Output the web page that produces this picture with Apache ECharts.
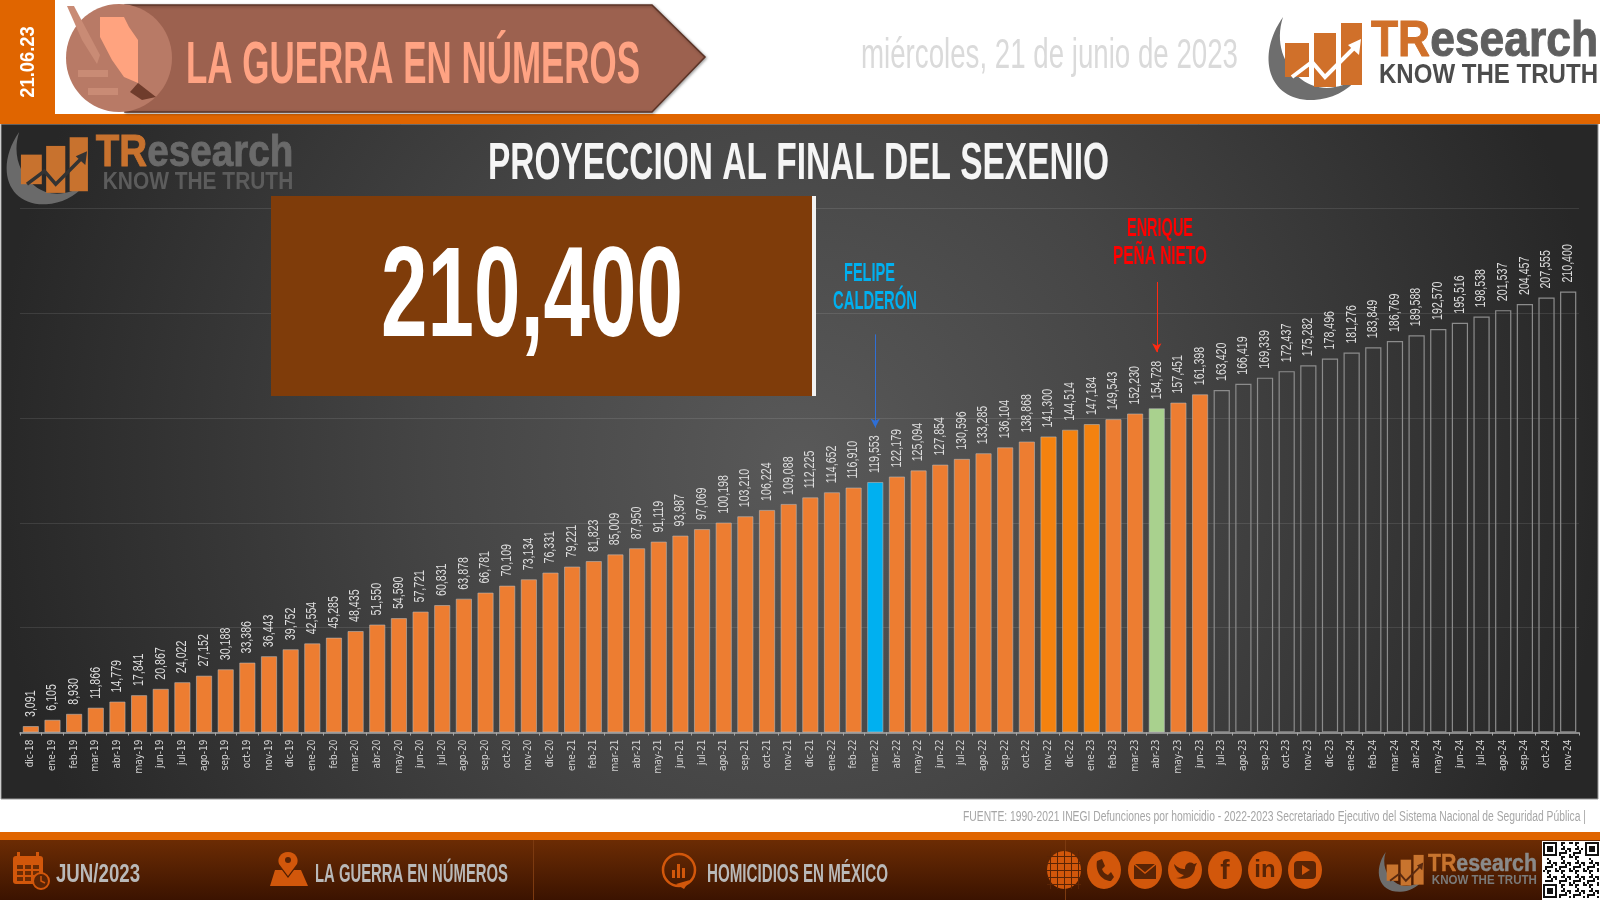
<!DOCTYPE html>
<html><head><meta charset="utf-8">
<style>html,body{margin:0;padding:0;background:#fff}#c{width:1600px;height:900px}</style>
<script src="https://cdn.jsdelivr.net/npm/echarts@6/dist/echarts.min.js"></script>
</head><body><div id="c"></div>
<script>
const categories = ['dic-18','ene-19','feb-19','mar-19','abr-19','may-19','jun-19','jul-19','ago-19','sep-19','oct-19','nov-19','dic-19','ene-20','feb-20','mar-20','abr-20','may-20','jun-20','jul-20','ago-20','sep-20','oct-20','nov-20','dic-20','ene-21','feb-21','mar-21','abr-21','may-21','jun-21','jul-21','ago-21','sep-21','oct-21','nov-21','dic-21','ene-22','feb-22','mar-22','abr-22','may-22','jun-22','jul-22','ago-22','sep-22','oct-22','nov-22','dic-22','ene-23','feb-23','mar-23','abr-23','may-23','jun-23','jul-23','ago-23','sep-23','oct-23','nov-23','dic-23','ene-24','feb-24','mar-24','abr-24','may-24','jun-24','jul-24','ago-24','sep-24','oct-24','nov-24'];
const values = [3091,6105,8930,11866,14779,17841,20867,24022,27152,30188,33386,36443,39752,42554,45285,48435,51550,54590,57721,60831,63878,66781,70109,73134,76331,79221,81823,85009,87950,91119,93987,97069,100198,103210,106224,109088,112225,114652,116910,119553,122179,125094,127854,130596,133285,136104,138868,141300,144514,147184,149543,152230,154728,157451,161398,163420,166419,169339,172437,175282,178496,181276,183849,186769,189588,192570,195516,198538,201537,204457,207555,210400];
const calderonMonth = 'mar-22';
const penaMonth = 'abr-23';
const strongMonths = ['nov-22','dic-22','ene-23'];
const firstProjected = 'jul-23';

const NARROW = '"DejaVu Sans Condensed","DejaVu Sans",sans-serif';
const SANS = '"Liberation Sans",Arial,sans-serif';
const mctx = document.createElement('canvas').getContext('2d');
let shapeId = 0;
function pathEl(pathData, style, z){
  const name='deco'+(shapeId++);
  echarts.graphic.registerShape(name, echarts.graphic.extendPath(pathData,{}));
  return {type:name,silent:true,z:z==null?4:z,style:style};
}
// Text fitted horizontally to a target width; x is the left edge, y the vertical middle.
function fit(text, x, y, w, size, color, opt) {
  opt = opt || {};
  const font = (opt.weight || 'normal') + ' ' + size + 'px ' + (opt.family || SANS);
  mctx.font = font;
  const sx = w / mctx.measureText(text).width;
  return { type:'text', x:x, y:y, scaleX:sx, scaleY:1, z:opt.z==null?6:opt.z, silent:true,
    style:Object.assign({ text:text, fill:color, font:font, textAlign:'left', textVerticalAlign:'middle' }, opt.style||{}) };
}
function rect(x,y,w,h,fill,z,extra){ return Object.assign({type:'rect',silent:true,z:z==null?5:z,shape:{x:x,y:y,width:w,height:h},style:{fill:fill}},extra||{}); }
function poly(points,fill,z){ return {type:'polygon',silent:true,z:z==null?5:z,shape:{points:points},style:{fill:fill}}; }

function logo(x,y,s,c){
  const children = [
    pathEl('M14,0 C-14,40 0,85 45,83 C62,82 78,75 90,60 C72,72 50,76 32,62 C14,48 6,25 14,0 Z',{fill:c.swoosh}),
    {type:'rect',shape:{x:16,y:26,width:24,height:34},style:{fill:c.bar}},
    {type:'rect',shape:{x:45,y:16,width:22,height:54},style:{fill:c.bar}},
    {type:'rect',shape:{x:72,y:6,width:21,height:62},style:{fill:c.bar}},
    {type:'polyline',shape:{points:[[23,60],[43,45],[56,60],[86,30]]},style:{stroke:c.check,lineWidth:4,fill:null}},
    {type:'polygon',shape:{points:[[92,22],[79,28],[90,38]]},style:{fill:c.check}}
  ];
  mctx.font='bold 50px '+SANS;
  const sx=227/mctx.measureText('TResearch').width;
  const trW=mctx.measureText('TR').width*sx;
  children.push(
    {type:'text',x:102,y:25,scaleX:sx,style:{text:'TR',font:'bold 50px '+SANS,fill:c.bar,textAlign:'left',textVerticalAlign:'middle',stroke:c.bar,lineWidth:1}},
    {type:'text',x:102+trW,y:25,scaleX:sx,style:{text:'esearch',font:'bold 50px '+SANS,fill:c.text,textAlign:'left',textVerticalAlign:'middle',stroke:c.text,lineWidth:1}}
  );
  mctx.font='bold 28px '+SANS;
  const sk=219/mctx.measureText('KNOW THE TRUTH').width;
  children.push({type:'text',x:110,y:58,scaleX:sk,style:{text:'KNOW THE TRUTH',font:'bold 28px '+SANS,fill:c.sub,textAlign:'left',textVerticalAlign:'middle'}});
  return {type:'group',x:x,y:y,scaleX:s,scaleY:s,silent:true,z:6,children:children.map(e=>Object.assign(e,{z:6,silent:true}))};
}

const ORANGE='#E06500', ICON='#D2570B', GLYPH='#5A2405';
const g = [];
// page frame
g.push(rect(0,114,1600,10,ORANGE,1));
g.push(rect(0,0,55,114,ORANGE,1));
g.push({type:'rect',silent:true,z:-10,shape:{x:1,y:124,width:1597,height:675},
  style:{fill:new echarts.graphic.RadialGradient(0.5,0.5,1.2,[{offset:0,color:'#595959'},{offset:0.45,color:'#454545'},{offset:1,color:'#272727'}]),stroke:'#9a9a9a',lineWidth:1}});
g.push({type:'text',x:28,y:62,rotation:Math.PI/2,scaleX:0.92,silent:true,z:6,style:{text:'21.06.23',font:'bold 20px '+SANS,fill:'#fff',textAlign:'center',textVerticalAlign:'middle'}});
// banner
g.push({type:'polygon',silent:true,z:2,shape:{points:[[125,5],[652,5],[705,57],[652,112],[125,112]]},style:{fill:'#9C614F',stroke:'#5b3326',lineWidth:1.5,shadowColor:'rgba(0,0,0,.35)',shadowBlur:3,shadowOffsetX:1,shadowOffsetY:1}});
g.push({type:'ellipse',silent:true,z:3,shape:{cx:119,cy:58,rx:53,ry:54},style:{fill:'#B87A66'}});
g.push(poly([[67,6],[74,6],[100,55],[97,64],[82,40]],'#C98B75',4));
g.push(poly([[100,17],[124,17],[129,27],[138,40],[138,83],[124,77],[112,60],[100,37]],'#FFA37F',4));
g.push(poly([[138,83],[156,97],[142,100],[130,92]],'#6F3C2C',4));
g.push(rect(78,70,30,7,'#C98B75',4)); g.push(rect(88,88,30,7,'#C98B75',4));
g.push(fit('LA GUERRA EN NÚMEROS',186,66,454,60,'#FFA383',{weight:'bold',style:{shadowColor:'#4a2a1e',shadowOffsetX:2,shadowOffsetY:2,shadowBlur:1}}));
g.push(fit('miércoles, 21 de junio de 2023',861,56,377,42,'#DADADA'));
const cMain={swoosh:'#6e6e6e',bar:'#D0702A',check:'#fff',text:'#5f5f5f',sub:'#4c4c4c'};
const cPanel={swoosh:'#6a6a6a',bar:'#C8722E',check:'#333',text:'#6a6a6a',sub:'#5c5c5c'};
const cFoot={swoosh:'#6d6d6d',bar:'#C8742E',check:'#5a2a10',text:'#8a8a8a',sub:'#7a7a7a'};
g.push(logo(1269,17,1,cMain));
g.push(logo(7,132,0.87,cPanel));
// title
g.push(fit('PROYECCION AL FINAL DEL SEXENIO',488,165,621,52,'#F5F5F5',{weight:'bold',style:{shadowColor:'rgba(0,0,0,.7)',shadowOffsetX:2,shadowOffsetY:2,shadowBlur:2}}));
// big number box
g.push(rect(271,196,541,200,'#7F3C0A',5));
g.push(rect(812,196,4,200,'#F2F2F2',5));
g.push(fit(values[values.length-1].toLocaleString('en-US'),381,301,302,128,'#fff',{weight:'bold',z:6}));
// callouts
g.push(fit('FELIPE',844,274,51,26,'#00B0F0',{weight:'bold'}));
g.push(fit('CALDERÓN',833,302,84,26,'#00B0F0',{weight:'bold'}));
g.push(fit('ENRIQUE',1127,229,66,26,'#FF0000',{weight:'bold'}));
g.push(fit('PEÑA NIETO',1113,257,94,26,'#FF0000',{weight:'bold'}));
// source
g.push(fit('FUENTE: 1990-2021 INEGI Defunciones por homicidio - 2022-2023 Secretariado Ejecutivo del Sistema Nacional de Seguridad Pública |',963,817,623,14,'#A6A6A6'));
// footer
g.push(rect(0,832,1600,8,ORANGE,1));
g.push(rect(0,840,1600,60,new echarts.graphic.LinearGradient(0,0,0,1,[{offset:0,color:'#6C2C04'},{offset:1,color:'#3B1300'}]),1));
g.push(rect(533,840,1,60,'#7c3a10',2)); g.push(rect(1065,840,1,60,'#7c3a10',2));
g.push(fit('JUN/2023',56,875,84,26,'#B9B9B9',{weight:'bold'}));
g.push(fit('LA GUERRA EN NÚMEROS',315,875,193,26,'#B9B9B9',{weight:'bold'}));
g.push(fit('HOMICIDIOS EN MÉXICO',707,875,181,26,'#B9B9B9',{weight:'bold'}));
// calendar icon
g.push({type:'rect',silent:true,z:3,shape:{x:13,y:856,width:30,height:28,r:3},style:{fill:ICON}});
for(let i=0;i<3;i++)for(let j=0;j<3;j++) g.push(rect(17+i*8,865+j*6,6,4,'#6C2C04',4));
g.push(rect(17,852,3,6,ICON,3)); g.push(rect(36,852,3,6,ICON,3));
g.push({type:'circle',silent:true,z:4,shape:{cx:41,cy:881,r:8},style:{fill:'#5a2405',stroke:ICON,lineWidth:2}});
g.push({type:'polyline',silent:true,z:5,shape:{points:[[41,876],[41,881],[45,883]]},style:{stroke:ICON,lineWidth:1.5,fill:null}});
// map pin icon
g.push(pathEl('M288,852 C280,852 277,859 279,864 L288,876 L297,864 C299,859 296,852 288,852 Z',{fill:ICON},3));
g.push({type:'circle',silent:true,z:4,shape:{cx:288,cy:860,r:3},style:{fill:'#5a2405'}});
g.push(poly([[275,870],[282,870],[288,878],[294,870],[301,870],[308,886],[270,886]],ICON,3));
// bubble icon
g.push({type:'circle',silent:true,z:3,shape:{cx:679,cy:870,r:16},style:{fill:'rgba(0,0,0,0)',stroke:ICON,lineWidth:2.5}});
g.push(poly([[676,884],[690,880],[684,889]],ICON,3));
g.push(rect(672,870,3,8,ICON,4)); g.push(rect(677,864,3,14,ICON,4)); g.push(rect(682,868,3,10,ICON,4));
// social icons
const iconCx=[1064,1104,1145,1185,1225,1265,1305];
iconCx.forEach(cx=>g.push({type:'ellipse',silent:true,z:3,shape:{cx:cx,cy:870,rx:17,ry:19},style:{fill:ICON}}));
for(let i=-2;i<=2;i++){ g.push(rect(1047,870+i*7,34,1,'#5a2405',4)); g.push(rect(1064+i*7,851,1,38,'#5a2405',4)); }
g.push(pathEl('M1097,861 L1102,859 L1105,866 L1102,869 C1103,872 1105,874 1108,875 L1111,872 L1114,877 L1111,881 C1102,881 1095,872 1097,861 Z',{fill:GLYPH}));
g.push(rect(1134,864,22,15,GLYPH,4));
g.push({type:'polyline',silent:true,z:5,shape:{points:[[1134,864],[1145,873],[1156,864]]},style:{stroke:ICON,lineWidth:1.5,fill:null}});
g.push(pathEl('M1174,864 C1178,868 1181,869 1185,869 C1185,863 1190,861 1194,864 L1197,863 L1195,867 C1195,875 1188,881 1176,878 C1180,878 1182,877 1184,875 C1179,874 1175,870 1174,864 Z',{fill:GLYPH}));
g.push({type:'text',x:1225,y:871,silent:true,z:4,style:{text:'f',font:'bold 28px '+SANS,fill:GLYPH,textAlign:'center',textVerticalAlign:'middle'}});
g.push({type:'text',x:1265,y:870,silent:true,z:4,style:{text:'in',font:'bold 24px '+SANS,fill:GLYPH,textAlign:'center',textVerticalAlign:'middle'}});
g.push({type:'rect',silent:true,z:4,shape:{x:1294,y:861,width:22,height:18,r:4},style:{fill:GLYPH}});
g.push(poly([[1302,865],[1302,875],[1310,870]],ICON,5));
g.push(logo(1379,852,0.48,cFoot));
// QR decoration
g.push(rect(1542,841,58,59,'#fff',5));
const cell=2, n=28;
for(let i=0;i<n;i++)for(let j=0;j<n;j++){
  const inF=(a,b)=>a<8&&b<8;
  if(inF(i,j)||inF(n-1-i,j)||inF(i,n-1-j))continue;
  if((i*i*3+j*j*5+i*j+i)%7<3) g.push(rect(1543+i*cell,842+j*cell,cell,cell,'#111',6));
}
[[1543,842],[1543+21*cell,842],[1543,842+21*cell]].forEach(p=>{
  g.push(rect(p[0],p[1],14,14,'#111',6)); g.push(rect(p[0]+2,p[1]+2,10,10,'#fff',7)); g.push(rect(p[0]+4,p[1]+4,6,6,'#111',8));
});

const BAR='#ED7D31', STRONG='#F4820F', BLUE='#00B0F0', GREEN='#A9D18E', OUTLINE='#8C8C8C';
const projStart = categories.indexOf(firstProjected);
const barData = values.map((v,i)=>{
  const c=categories[i];
  if(i>=projStart) return {value:v,itemStyle:{color:'rgba(0,0,0,0)',borderColor:OUTLINE,borderWidth:1.2}};
  let col=BAR;
  if(c===calderonMonth) col=BLUE; else if(c===penaMonth) col=GREEN; else if(strongMonths.includes(c)) col=STRONG;
  return {value:v,itemStyle:{color:col,borderColor:'rgba(190,190,190,.55)',borderWidth:1}};
});
// Tall condensed value labels, placed from the chart's own coordinate system.
function valueLabel(params, api){
  const p = api.coord([api.value(0), api.value(1)]);
  return {type:'text', x:p[0], y:p[1]-9, rotation:Math.PI/2, scaleX:0.76, silent:true,
    style:{text:api.value(1).toLocaleString('en-US'), font:'14px '+SANS, fill:'#DEDEDE', textAlign:'left', textVerticalAlign:'middle'}};
}

const chart = echarts.init(document.getElementById('c'),null,{renderer:'canvas',width:1600,height:900});
chart.setOption({
  animation:false,
  backgroundColor:'#ffffff',
  grid:{left:20,right:21,top:208.6,bottom:167.5,containLabel:false},
  xAxis:{type:'category',data:categories,
    axisLine:{lineStyle:{color:'#A6A6A6',width:1.5}},
    axisTick:{show:true,length:3,lineStyle:{color:'#A6A6A6'},alignWithLabel:false},
    axisLabel:{rotate:90,interval:0,margin:7,color:'#D4D4D4',fontFamily:NARROW,fontSize:10,hideOverlap:false}},
  yAxis:{type:'value',min:0,max:250000,interval:50000,
    axisLine:{show:false},axisTick:{show:false},axisLabel:{show:false},
    splitLine:{show:true,lineStyle:{color:'rgba(255,255,255,0.1)',width:1}}},
  series:[{type:'bar',data:barData,barCategoryGap:'25%',
    markLine:{silent:true,animation:false,symbol:['none','arrow'],symbolSize:[7,9],label:{show:false},
      data:[
        [{xAxis:calderonMonth,yAxis:190000,lineStyle:{color:'#2F6FD6',width:1,type:'solid'}},{xAxis:calderonMonth,yAxis:145500}],
        [{xAxis:penaMonth,yAxis:215000,lineStyle:{color:'#FF2A12',width:1,type:'solid'}},{xAxis:penaMonth,yAxis:181500}]
      ]}
  },{type:'custom',clip:false,silent:true,z:4,renderItem:valueLabel,encode:{x:0,y:1},
     data:values.map((v,i)=>[i,v])}],
  graphic:{elements:g}
});
</script></body></html>
